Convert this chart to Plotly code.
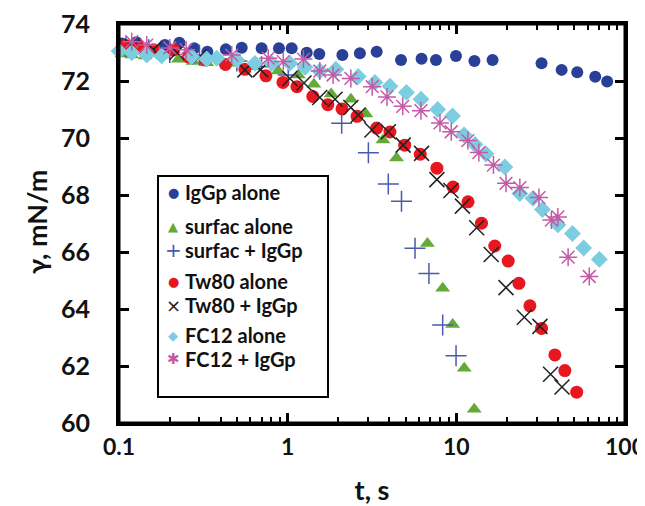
import plotly.graph_objects as go

# ---- data ----
iggp_t = [0.104, 0.127, 0.187, 0.228, 0.279, 0.334, 0.430, 0.534, 0.701, 0.888, 1.056, 1.297, 1.54,
          2.11, 2.68, 3.37, 4.70, 6.22, 7.57, 9.95, 12.8, 16.4, 32.0, 42.1, 52.1, 66.6, 78.4]
iggp_y = [73.32, 73.36, 73.26, 73.34, 73.15, 73.03, 73.11, 73.17, 73.15, 73.15, 73.15, 72.99, 72.95,
          72.91, 72.97, 73.03, 72.74, 72.78, 72.74, 72.88, 72.70, 72.74, 72.62, 72.39, 72.31, 72.15, 71.98]

surf_t = [0.104, 0.119, 0.143, 0.179, 0.225, 0.275, 0.331, 0.455, 0.62, 0.879, 1.156, 1.43, 1.81, 2.37,
          2.91, 3.67, 4.42, 6.74, 8.30, 9.51, 11.14, 12.77]
surf_y = [72.95, 72.91, 72.88, 72.91, 72.76, 72.68, 72.64, 72.62, 72.50, 72.35, 72.21, 71.89, 71.54, 71.36,
          70.84, 69.93, 69.30, 66.30, 64.73, 63.46, 61.92, 60.48]

surfi_t = [0.11, 0.15, 0.2, 0.3, 0.5, 0.7, 1.008, 2.09, 3.01, 3.95, 4.73, 5.69, 6.88, 8.30, 9.96]
surfi_y = [73.2, 73.1, 73.0, 72.9, 72.7, 72.5, 72.21, 70.52, 69.48, 68.39, 67.78, 66.13, 65.25, 63.44, 62.36]

tw_t = [0.11, 0.13, 0.16, 0.210, 0.258, 0.324, 0.428, 0.558, 0.743, 0.938, 1.135, 1.41, 1.73, 2.10, 2.58,
        3.37, 4.04, 4.94, 6.11, 7.67, 9.55, 11.73, 14.1, 16.9, 20.3, 23.5, 27.3, 32.0, 38.4, 44.0, 51.7]
tw_y = [73.25, 73.2, 73.1, 73.09, 72.85, 72.74, 72.58, 72.41, 72.18, 71.95, 71.80, 71.46, 71.17, 71.02, 70.76,
        70.35, 70.21, 69.75, 69.43, 68.94, 68.28, 67.76, 67.01, 66.21, 65.68, 64.90, 64.11, 63.32, 62.39, 61.84, 61.08]

twi_t = [0.12, 0.16, 0.22, 0.3, 0.558, 0.69, 1.03, 1.25, 1.55, 1.91, 2.37, 2.62, 3.16, 3.95, 4.84, 6.22,
         7.67, 9.29, 10.87, 13.2, 16.1, 19.7, 25.3, 31.3, 36.2, 42.3]
twi_y = [73.2, 73.1, 73.0, 72.85, 72.39, 72.4, 72.09, 71.93, 71.42, 71.36, 71.07, 70.81, 70.28, 70.22, 69.75,
         69.46, 68.54, 68.16, 67.61, 66.85, 65.91, 64.75, 63.71, 63.39, 61.71, 61.26]

fc_t = [0.10, 0.119, 0.146, 0.179, 0.270, 0.331, 0.380, 0.499, 0.640, 0.804, 1.03, 1.27, 1.55, 1.93, 2.62,
        3.29, 4.04, 5.06, 6.17, 7.75, 9.49, 11.1, 12.9, 15.0, 19.4, 23.8, 28.5, 32.4, 40.0, 48.8, 56.9, 70.5]
fc_y = [73.05, 72.99, 72.91, 72.88, 72.85, 72.77, 72.80, 72.74, 72.62, 72.62, 72.62, 72.48, 72.35, 72.41, 72.16,
        71.95, 71.82, 71.60, 71.36, 71.00, 70.77, 70.11, 69.77, 69.44, 68.98, 68.05, 67.88, 67.49, 66.95, 66.65,
        66.14, 65.74]

fci_t = [0.119, 0.146, 0.20, 0.25, 0.466, 0.767, 0.942, 1.24, 1.55, 1.86, 2.37, 3.17, 3.88, 4.81, 6.17, 8.00,
         9.33, 11.7, 13.6, 16.6, 19.7, 23.8, 30.9, 36.6, 40.0, 46.0, 61.4]
fci_y = [73.38, 73.26, 73.16, 73.1, 72.91, 72.80, 72.68, 72.77, 72.35, 72.21, 72.09, 71.80, 71.44, 71.11, 70.96,
         70.53, 70.22, 69.91, 69.49, 69.05, 68.41, 68.26, 67.91, 67.12, 67.23, 65.82, 65.14]

series_names = ["IgGp alone", "surfac alone", "surfac + IgGp", "Tw80 alone", "Tw80 + IgGp",
                "FC12 alone", "FC12 + IgGp"]

FONT = "Lato"
TXT = "#111111"
OFF = 8                      # page body margin of the written html
W, H = 645 - OFF, 506 - OFF
ML, MR, MT, MB = 119 - OFF, 20, 24 - OFF, 83
PW, PH = W - ML - MR, H - MT - MB

def px_x(px):
    return (px - OFF - ML) / PW

def px_y(py):
    return (H - MB - (py - OFF)) / PH

fig = go.Figure()

styles = [
    ("circle", "#2a3f98", 12, 0),
    ("triangle-up", "#63aa38", 13, 0),
    ("cross-thin-open", "#4a5aac", 15, 1.5),
    ("circle", "#e8161e", 13, 0),
    ("x-thin-open", "#222222", 15, 1.5),
    ("diamond", "#7ccde0", 13, 0),
    ("asterisk-open", "#c45aa6", 15, 1.5),
]
datasets = [(iggp_t, iggp_y), (surf_t, surf_y), (surfi_t, surfi_y), (tw_t, tw_y),
            (twi_t, twi_y), (fc_t, fc_y), (fci_t, fci_y)]

for name, (t, y), (sym, col, size, lw) in zip(series_names, datasets, styles):
    marker = dict(symbol=sym, color=col, size=size,
                  line=dict(color=col, width=lw) if lw else dict(width=0))
    fig.add_trace(go.Scatter(x=t, y=y, mode="markers", name=name, marker=marker, showlegend=False,
                             cliponaxis=False))

axis_common = dict(showline=True, linecolor="black", linewidth=3, mirror="ticks",
                   ticks="inside", ticklen=10, tickwidth=2.5, tickcolor="black",
                   showgrid=False, zeroline=False, automargin=False, ticklabeloverflow="allow")

fig.update_xaxes(type="log", range=[-1, 2], dtick=1, ticklabelstandoff=1,
                 tickfont=dict(family=FONT, size=23, color=TXT, weight="bold"),
                 minor=dict(ticks="inside", ticklen=6, tickwidth=2, tickcolor="black", dtick="D1",
                            showgrid=False),
                 title=dict(text="t, s", font=dict(family=FONT, size=27, color=TXT, weight="bold"),
                            standoff=25),
                 **axis_common)
fig.update_yaxes(range=[60, 74], dtick=2, ticklabelstandoff=21,
                 tickfont=dict(family=FONT, size=25, color=TXT, weight="bold"),
                 **axis_common)

# plot frame
fig.add_shape(type="rect", xref="paper", yref="paper", x0=0, x1=1, y0=0, y1=1,
              line=dict(color="black", width=3), layer="above")

# y-axis title placed as a rotated text
fig.add_annotation(xref="paper", yref="paper", x=px_x(36), y=px_y(222),
                   text="γ, mN/m", textangle=-90, showarrow=False,
                   xanchor="center", yanchor="middle",
                   font=dict(family=FONT, size=27, color=TXT, weight="bold"))

# ---- legend drawn as a framed box with text entries ----
fig.add_shape(type="rect", xref="paper", yref="paper",
              x0=px_x(158), x1=px_x(328), y0=px_y(397), y1=px_y(176),
              line=dict(color="black", width=2), fillcolor="white", layer="below")

glyph_sym = ["●", "▲", "+", "●", "×", "◆", "✱"]
glyph_size = [13, 13, 20, 13, 18, 13, 15]
entry_y = [192, 226, 250, 281, 305, 335, 359]
for name, g, gs, ey, (sym, col, size, lw) in zip(series_names, glyph_sym, glyph_size, entry_y, styles):
    fig.add_annotation(xref="paper", yref="paper", x=px_x(173), y=px_y(ey),
                       text=g, showarrow=False, xanchor="center", yanchor="middle",
                       font=dict(family="DejaVu Sans", size=gs, color=col))
    fig.add_annotation(xref="paper", yref="paper", x=px_x(183), y=px_y(ey),
                       text=name, showarrow=False, xanchor="left", yanchor="middle",
                       font=dict(family=FONT, size=20, color=TXT, weight="bold"))

fig.update_layout(
    width=W, height=H,
    margin=dict(l=ML, r=MR, t=MT, b=MB),
    plot_bgcolor="white", paper_bgcolor="white",
    showlegend=False,
)

fig.write_html("out.html")
